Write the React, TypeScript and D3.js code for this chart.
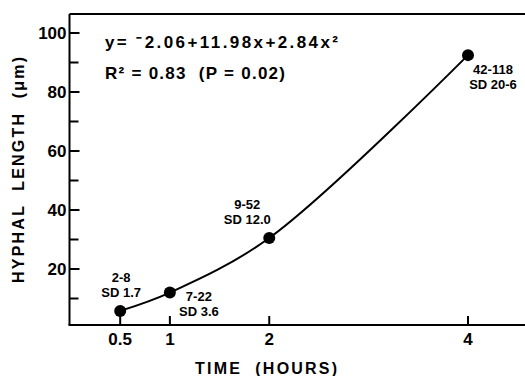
import React from "react";
import * as d3 from "d3";

// data
const hours = [0.5, 1, 2, 4];
const lengths = [5.8, 12, 30.5, 92.5];
const ranges = ["2-8", "7-22", "9-52", "42-118"];
const sds = ["SD 1.7", "SD 3.6", "SD 12.0", "SD 20-6"];
const xTicks = [0.5, 1, 2, 4];
const yMajor = [20, 40, 60, 80, 100];
const yMinor = [10, 30, 50, 70, 90];

// label offsets relative to each point (dx, dy of first line)
const labelOffsets = [
  [1, -33],
  [29, 4],
  [-22, -33],
  [25, 15],
];

const FONT = "'Liberation Sans', Arial, Helvetica, sans-serif";

const App = () => {
  const W = 525;
  const H = 376;
  const left = 69.5;
  const top = 14;
  const bottom = 325;

  const x = d3.scaleLinear().domain([0, 4]).range([70.5, 468]);
  const y = d3.scaleLinear().domain([0, 100]).range([328, 33]);

  const pts = hours.map((h, i) => [x(h), y(lengths[i])] as [number, number]);
  const line = d3.line().curve(d3.curveCatmullRom.alpha(0.5))(pts);

  return (
    <svg
      width={W}
      height={H}
      style={{ position: "absolute", left: 0, top: 0, background: "#fff" }}
      fontFamily={FONT}
      fontWeight="bold"
    >
      {/* frame */}
      <line x1={left} x2={W} y1={top} y2={top} stroke="#000" strokeWidth={2} />
      <line x1={left} x2={left} y1={top} y2={bottom} stroke="#000" strokeWidth={2} />
      <line x1={left - 1} x2={W} y1={bottom} y2={bottom} stroke="#000" strokeWidth={2} />

      {/* y ticks */}
      {yMajor.map((v) => (
        <g key={"ym" + v}>
          <line x1={left} x2={left + 10} y1={y(v)} y2={y(v)} stroke="#000" strokeWidth={2} />
          <text x={left - 3} y={y(v)} dy="0.36em" textAnchor="end" fontSize={17}>
            {v}
          </text>
        </g>
      ))}
      {yMinor.map((v) => (
        <line key={"yn" + v} x1={left} x2={left + 9} y1={y(v)} y2={y(v)} stroke="#000" strokeWidth={2} />
      ))}

      {/* x ticks */}
      {xTicks.map((v) => (
        <g key={"x" + v}>
          <line x1={x(v)} x2={x(v)} y1={bottom} y2={bottom - 9} stroke="#000" strokeWidth={2} />
          <text x={x(v)} y={bottom + 20} textAnchor="middle" fontSize={17}>
            {v}
          </text>
        </g>
      ))}

      {/* axis titles */}
      <text
        x={266}
        y={374}
        textAnchor="middle"
        fontSize={16}
        textLength={142}
        lengthAdjust="spacing"
        style={{ whiteSpace: "pre" }}
      >
        TIME  (HOURS)
      </text>
      <text
        transform="translate(24,170) rotate(-90)"
        textAnchor="middle"
        fontSize={16}
        textLength={226}
        lengthAdjust="spacing"
        style={{ whiteSpace: "pre" }}
      >
        HYPHAL  LENGTH  (μm)
      </text>

      {/* fit curve and points */}
      <path d={line ?? ""} fill="none" stroke="#000" strokeWidth={2} />
      {pts.map(([px, py], i) => (
        <circle key={"p" + i} cx={px} cy={py} r={6} fill="#000" />
      ))}

      {/* point annotations */}
      {pts.map(([px, py], i) => (
        <g key={"l" + i} fontSize={13}>
          <text x={px + labelOffsets[i][0]} y={py + labelOffsets[i][1] + 4} textAnchor="middle">
            {ranges[i]}
          </text>
          <text x={px + labelOffsets[i][0]} y={py + labelOffsets[i][1] + 19} textAnchor="middle">
            {sds[i]}
          </text>
        </g>
      ))}

      {/* equation */}
      <text x={105} y={48} fontSize={17} textLength={233} lengthAdjust="spacing">
        y= ⁻2.06+11.98x+2.84x²
      </text>
      <text x={105} y={79} fontSize={17} textLength={180} lengthAdjust="spacing" style={{ whiteSpace: "pre" }}>
        R² = 0.83  (P = 0.02)
      </text>
    </svg>
  );
};

export default App;
